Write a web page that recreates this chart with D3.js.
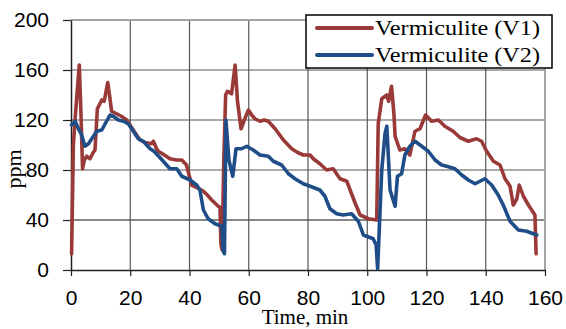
<!DOCTYPE html>
<html>
<head>
<meta charset="utf-8">
<script src="https://cdn.jsdelivr.net/npm/d3@7"></script>
<style>
  body { margin: 0; background: #fff; }
  svg { display: block; }
</style>
</head>
<body>
<div id="chart"></div>
<script>
// Vermiculite V1 (red)
const timeV1 = [0.2, 0.8, 1.3, 2.0, 2.8, 3.3, 3.9, 4.5, 5.3, 6.4, 7.5, 8.1, 8.9, 10.4, 11.2, 12.4, 13.0, 13.7, 15.4, 17.0,
  18.8, 21.0, 23.3, 25.0, 27.2, 27.8, 28.9, 29.5, 31.5, 33.4, 35.5, 37.4, 39.0, 40.7, 42.5, 44.7, 46.0, 47.5, 49.7, 50.3,
  50.6, 51.0, 51.6, 52.2, 52.8, 54.2, 55.4, 56.2, 57.4, 58.5, 59.9, 61.0, 62.1, 63.8, 65.2, 66.6, 68.9, 71.7, 74.5, 76.5,
  78.4, 80.7, 81.8, 84.0, 86.3, 88.5, 90.8, 93.1, 94.7, 96.0, 97.6, 100.4, 103.2, 103.7, 104.9, 106.6, 107.2, 108.2, 109.0, 109.4,
  111.0, 112.7, 114.4, 116.1, 117.8, 119.7, 121.7, 124.0, 126.2, 129.0, 131.3, 134.1, 136.9, 138.6, 140.3, 142.6, 144.8, 146.5, 148.2, 149.3,
  150.5, 151.3, 152.7, 154.4, 156.6, 157.0]
const ppmV1 = [13, 100, 118, 140, 164, 130, 81, 88, 91, 89, 94, 96, 129, 136, 135, 150, 140, 127, 125, 123,
  120, 112, 104, 102, 101, 103, 97, 95, 92, 89, 88, 88, 84, 68, 66, 63, 60, 56, 51, 50,
  21, 16, 90, 140, 143, 141, 164, 135, 113, 120, 128, 124, 121, 119, 120, 119, 113, 104, 97, 94,
  92, 92, 89, 85, 80, 81, 73, 71, 61, 53, 44, 41, 40, 117, 137, 140, 135, 147, 125, 107,
  96, 97, 92, 111, 113, 124, 119, 120, 115, 111, 106, 103, 105, 103, 95, 87, 84, 73, 67, 52,
  57, 68, 59, 52, 44, 13]

// Vermiculite V2 (blue)
const timeV2 = [0.2, 1.4, 2.5, 3.6, 4.7, 5.9, 7.0, 8.7, 10.4, 12.0, 13.2, 14.3, 16.0, 17.7, 19.3, 20.5, 22.7, 24.4, 26.7, 28.0,
  30.0, 33.4, 35.7, 37.4, 40.2, 42.4, 43.5, 44.7, 46.3, 48.6, 50.9, 51.4, 51.8, 52.3, 53.3, 54.6, 55.7, 57.6, 59.3, 61.5,
  63.8, 66.6, 68.3, 71.1, 73.4, 75.6, 78.4, 80.7, 84.0, 85.7, 87.4, 89.7, 91.9, 94.7, 97.0, 98.7, 102.0, 103.0, 103.5, 104.9,
  106.0, 106.6, 107.7, 109.4, 110.2, 111.6, 112.7, 114.4, 116.1, 118.4, 120.6, 122.9, 125.1, 126.8, 129.6, 131.9, 134.1, 136.4, 139.7, 142.0,
  144.2, 145.9, 148.2, 151.0, 153.8, 157.2]
const ppmV2 = [116, 119, 113, 108, 99, 101, 105, 111, 112, 119, 124, 123, 120, 119, 117, 113, 105, 103, 97, 95,
  90, 81, 81, 75, 72, 68, 64, 48, 41, 37, 35, 15, 13, 120, 88, 75, 97, 97, 99, 96,
  92, 91, 87, 84, 77, 73, 69, 67, 64, 59, 49, 45, 44, 45, 39, 28, 25, 20, 1, 80,
  109, 115, 64, 51, 75, 77, 92, 99, 103, 99, 95, 88, 84, 83, 81, 76, 72, 69, 73, 68,
  60, 52, 39, 32, 31, 28]

const xTicks = [0, 20, 40, 60, 80, 100, 120, 140, 160]
const yTicks = [0, 40, 80, 120, 160, 200]
const seriesNames = ["Vermiculite (V1)", "Vermiculite (V2)"]
const seriesColors = ["#9a3a38", "#1f4d88"]

const width = 566, height = 329
const margin = {top: 20, right: 21, bottom: 59, left: 71}

const svg = d3.select("#chart").append("svg")
  .attr("width", width)
  .attr("height", height)

const x = d3.scaleLinear().domain([0, 160]).range([margin.left, width - margin.right])
const y = d3.scaleLinear().domain([0, 200]).range([height - margin.bottom, margin.top])

// gridlines
svg.append("g")
  .selectAll("line")
  .data(yTicks.filter(d => d > 0 && d < 200))
  .join("line")
    .attr("x1", x(0)).attr("x2", x(160))
    .attr("y1", d => y(d)).attr("y2", d => y(d))
    .attr("stroke", d => d == 40 ? "#111" : "#555")
    .attr("stroke-width", 1.2)

svg.append("g")
  .selectAll("line")
  .data(xTicks.filter(d => d > 0 && d < 160))
  .join("line")
    .attr("x1", d => x(d)).attr("x2", d => x(d))
    .attr("y1", y(0)).attr("y2", y(200))
    .attr("stroke", "#555")
    .attr("stroke-width", 1.2)

// top / right border
svg.append("path")
  .attr("d", `M${x(0)},${y(200)}H${x(160)}V${y(0)}`)
  .attr("fill", "none")
  .attr("stroke", "#a3a3a3")
  .attr("stroke-width", 2)

// axes
const yAxis = svg.append("g")
  .attr("transform", `translate(${margin.left},0)`)
  .call(d3.axisLeft(y).tickValues(yTicks).tickSize(8).tickPadding(14).tickSizeOuter(0))
const xAxis = svg.append("g")
  .attr("transform", `translate(0,${height - margin.bottom})`)
  .call(d3.axisBottom(x).tickValues(xTicks).tickSize(6).tickPadding(14).tickSizeOuter(0))

svg.selectAll(".domain").attr("stroke", "#222").attr("stroke-width", 1.5)
svg.selectAll(".tick line").attr("stroke", "#222").attr("stroke-width", 1.2)
svg.selectAll(".tick text")
  .attr("font-family", "'Liberation Sans', Arial, sans-serif")
  .attr("font-size", 21)
  .attr("fill", "#000")

// lines
const line = d3.line()
  .x(d => x(d[0]))
  .y(d => y(d[1]))

const series = [
  d3.zip(timeV1, ppmV1),
  d3.zip(timeV2, ppmV2)
]

svg.append("g")
  .selectAll("path")
  .data(series)
  .join("path")
    .attr("d", d => line(d))
    .attr("fill", "none")
    .attr("stroke", (d, i) => seriesColors[i])
    .attr("stroke-width", 3.6)
    .attr("stroke-linejoin", "round")
    .attr("stroke-linecap", "round")

// axis titles
svg.append("text")
  .attr("x", 305)
  .attr("y", 324)
  .attr("text-anchor", "middle")
  .attr("font-family", "'Liberation Serif', 'Times New Roman', serif")
  .attr("font-size", 21)
  .text("Time, min")

svg.append("text")
  .attr("transform", "translate(21,169) rotate(-90)")
  .attr("text-anchor", "middle")
  .attr("font-family", "'Liberation Serif', 'Times New Roman', serif")
  .attr("font-size", 22)
  .text("ppm")

// legend
const legend = svg.append("g")
legend.append("rect")
  .attr("x", 306).attr("y", 15)
  .attr("width", 246).attr("height", 53)
  .attr("fill", "#fff")
  .attr("stroke", "#000")
  .attr("stroke-width", 1.5)

seriesNames.forEach((name, i) => {
  const ly = 28 + i * 27
  legend.append("line")
    .attr("x1", 317).attr("x2", 372)
    .attr("y1", ly).attr("y2", ly)
    .attr("stroke", seriesColors[i])
    .attr("stroke-width", 4)
    .attr("stroke-linecap", "round")
  legend.append("text")
    .attr("x", 375)
    .attr("y", ly + 7)
    .attr("font-family", "'Liberation Serif', 'Times New Roman', serif")
    .attr("font-size", 22)
    .attr("textLength", 165)
    .attr("lengthAdjust", "spacingAndGlyphs")
    .text(name)
})
</script>
</body>
</html>
